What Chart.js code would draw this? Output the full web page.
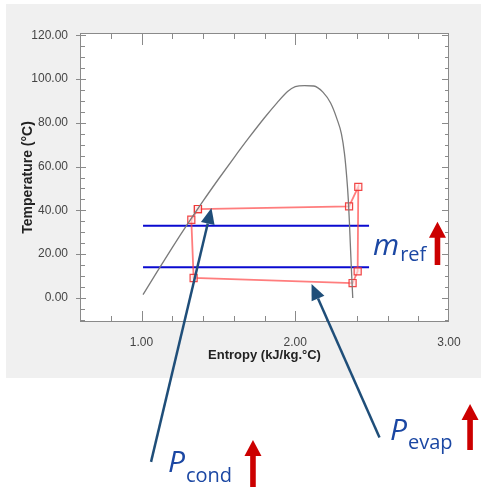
<!DOCTYPE html>
<html>
<head>
<meta charset="utf-8">
<script src="https://cdn.jsdelivr.net/npm/chart.js@4.4.1/dist/chart.umd.min.js"></script>
<style>
  html, body { margin: 0; padding: 0; background: #fff; }
  canvas { display: block; }
</style>
</head>
<body>
<canvas id="grafica" width="481" height="487"></canvas>
<script>
// curva de saturacion (campana)
const domoS = [1.01, 1.10, 1.20, 1.30, 1.40, 1.50, 1.60, 1.70, 1.80, 1.88, 1.95, 2.00, 2.06, 2.12, 2.18, 2.23, 2.27, 2.30, 2.32, 2.335, 2.345, 2.352, 2.358, 2.364, 2.37, 2.374];
const domoT = [1.5, 11.8, 23, 33.8, 44.2, 54.2, 63.9, 73.3, 82.3, 89, 94.3, 96.5, 97, 96.8, 94, 89, 82, 75, 66, 55, 45, 35, 25, 15, 6, 0];

// ciclo de refrigeracion
const cicloS = [1.367, 2.35, 2.41, 2.406, 2.373, 1.339, 1.324, 1.367];
const cicloT = [40.6, 41.8, 50.7, 12.1, 6.8, 9.1, 35.7, 40.6];

// lineas azules de presion
const presionT = [33, 14];
const presionS = [1.01, 2.48];

// etiquetas de ejes
const xEtiquetas = [1, 2, 3];
const yEtiquetas = [0, 20, 40, 60, 80, 100, 120];
const xMin = 0.6, xMax = 3.0, yMin = -11, yMax = 121;

// anotaciones (en unidades de los ejes)
const flechasAzules = [
  { desde: [1.062, -74.9], hasta: [1.455, 41.1] },
  { desde: [2.548, -63.8], hasta: [2.106, 6.4] }
];
const textos = [
  { base: 'm', sub: 'ref', pos: [2.506, 19.6], bajada: 6 },
  { base: 'P', sub: 'cond', pos: [1.172, -79.5], bajada: 10 },
  { base: 'P', sub: 'evap', pos: [2.616, -64.9], bajada: 9 }
];
const flechasRojas = [
  { s: 2.925, punta: 34.8, base: 15.0 },
  { s: 3.137, punta: -48.5, base: -69.5 },
  { s: 1.725, punta: -64.9, base: -87.7 }
];

const ctx = document.getElementById('grafica').getContext('2d');

const puntos = (xs, ys) => xs.map((x, i) => ({ x: x, y: ys[i] }));

const fondo = {
  id: 'fondo',
  beforeDraw(chart) {
    const c = chart.ctx, a = chart.chartArea;
    c.save();
    c.fillStyle = '#ffffff';
    c.fillRect(0, 0, chart.width, chart.height);
    c.fillStyle = '#f0f0f0';
    c.fillRect(6, 4, chart.width - 6, 374);
    c.fillStyle = '#ffffff';
    c.fillRect(a.left, a.top, a.right - a.left, a.bottom - a.top);
    c.restore();
  }
};

function flecha(c, x1, y1, x2, y2) {
  const ang = Math.atan2(y2 - y1, x2 - x1);
  const cab = 16, med = 7;
  const bx = x2 - cab * Math.cos(ang), by = y2 - cab * Math.sin(ang);
  c.strokeStyle = '#1f4e79';
  c.lineWidth = 2.5;
  c.beginPath(); c.moveTo(x1, y1); c.lineTo(bx, by); c.stroke();
  c.fillStyle = '#1f4e79';
  c.beginPath();
  c.moveTo(x2, y2);
  c.lineTo(bx + med * Math.sin(ang), by - med * Math.cos(ang));
  c.lineTo(bx - med * Math.sin(ang), by + med * Math.cos(ang));
  c.closePath(); c.fill();
}

function flechaRoja(c, cx, yPunta, yBase) {
  const hw = 8.5, sw = 2.8, hh = 16;
  c.fillStyle = '#cc0000';
  c.beginPath();
  c.moveTo(cx, yPunta);
  c.lineTo(cx + hw, yPunta + hh);
  c.lineTo(cx + sw, yPunta + hh);
  c.lineTo(cx + sw, yBase);
  c.lineTo(cx - sw, yBase);
  c.lineTo(cx - sw, yPunta + hh);
  c.lineTo(cx - hw, yPunta + hh);
  c.closePath(); c.fill();
}

const marco = {
  id: 'marco',
  afterDraw(chart) {
    const c = chart.ctx, a = chart.chartArea;
    const sx = chart.scales.x, sy = chart.scales.y;
    c.save();
    c.strokeStyle = '#8a8a8a';
    c.lineWidth = 1;
    c.strokeRect(a.left + 0.5, a.top + 0.5, a.right - a.left - 1, a.bottom - a.top - 1);
    c.beginPath();
    // ticks del eje x cada 0.2
    for (let k = 1; k < 12; k++) {
      const v = xMin + k * 0.2;
      const px = Math.round(sx.getPixelForValue(v)) + 0.5;
      const mayor = Math.abs(v - Math.round(v)) < 1e-6;
      const lb = mayor ? 11 : 6, lt = mayor ? 12 : 6;
      c.moveTo(px, a.bottom); c.lineTo(px, a.bottom - lb);
      c.moveTo(px, a.top); c.lineTo(px, a.top + lt);
    }
    // ticks del eje y cada 5
    for (let v = -10; v <= 120; v += 5) {
      const py = Math.round(sy.getPixelForValue(v)) + 0.5;
      const mayor = v % 20 === 0;
      c.moveTo(a.left - (mayor ? 4 : 0), py); c.lineTo(a.left + (mayor ? 6 : 5), py);
      c.moveTo(a.right, py); c.lineTo(a.right - (mayor ? 7 : 4), py);
    }
    c.stroke();

    // lineas de flechas azules
    flechasAzules.forEach(f => {
      flecha(c, sx.getPixelForValue(f.desde[0]), sy.getPixelForValue(f.desde[1]),
                sx.getPixelForValue(f.hasta[0]), sy.getPixelForValue(f.hasta[1]));
    });

    // textos
    c.fillStyle = '#1b47a3';
    c.textBaseline = 'alphabetic';
    c.textAlign = 'left';
    textos.forEach(t => {
      const x = sx.getPixelForValue(t.pos[0]), y = sy.getPixelForValue(t.pos[1]);
      c.font = 'italic 30px "Open Sans"';
      c.fillText(t.base, x, y);
      const w = c.measureText(t.base).width;
      c.font = '20px "Open Sans"';
      c.fillText(t.sub, x + w + 1, y + t.bajada);
    });

    flechasRojas.forEach(f => {
      flechaRoja(c, sx.getPixelForValue(f.s), sy.getPixelForValue(f.punta), sy.getPixelForValue(f.base));
    });
    c.restore();
  }
};

const chart = new Chart(ctx, {
  type: 'scatter',
  data: {
    datasets: [
      {
        label: 'Saturacion',
        data: puntos(domoS, domoT),
        showLine: true,
        borderColor: '#7a7a7a',
        borderWidth: 1.3,
        pointRadius: 0,
        cubicInterpolationMode: 'monotone'
      },
      {
        label: 'Ciclo',
        data: puntos(cicloS, cicloT),
        showLine: true,
        borderColor: 'rgba(255, 70, 70, 0.7)',
        borderWidth: 1.8,
        pointStyle: 'rect',
        pointRadius: 5,
        pointBorderWidth: 1.2,
        pointBorderColor: 'rgba(240, 50, 50, 0.9)',
        pointBackgroundColor: 'rgba(255, 230, 230, 0.6)'
      },
      {
        label: 'Pcond',
        data: puntos(presionS, [presionT[0], presionT[0]]),
        showLine: true,
        borderColor: '#0a0ad0',
        borderWidth: 2,
        pointRadius: 0
      },
      {
        label: 'Pevap',
        data: puntos(presionS, [presionT[1], presionT[1]]),
        showLine: true,
        borderColor: '#0a0ad0',
        borderWidth: 2,
        pointRadius: 0
      }
    ]
  },
  options: {
    responsive: false,
    animation: false,
    devicePixelRatio: 1,
    layout: { padding: { top: 33, right: 32, bottom: 124, left: 0 } },
    plugins: { legend: { display: false }, tooltip: { enabled: false } },
    scales: {
      x: {
        type: 'linear',
        min: xMin, max: xMax,
        grid: { display: false },
        border: { display: false },
        afterFit: s => { s.height = 41; },
        afterBuildTicks: s => { s.ticks = xEtiquetas.map(v => ({ value: v })); },
        ticks: {
          padding: 5,
          autoSkip: false,
          maxRotation: 0,
          color: '#444',
          font: { family: '"Liberation Sans", Arial', size: 12 },
          callback: v => Number(v).toFixed(2)
        },
        title: {
          display: true,
          text: 'Entropy (kJ/kg.°C)',
          color: '#222',
          font: { family: '"Liberation Sans", Arial', size: 13, weight: 'bold' },
          padding: { top: 0, bottom: 0 }
        }
      },
      y: {
        type: 'linear',
        min: yMin, max: yMax,
        grid: { display: false },
        border: { display: false },
        afterFit: s => { s.width = 80; },
        afterBuildTicks: s => { s.ticks = yEtiquetas.map(v => ({ value: v })); },
        ticks: {
          padding: 4,
          autoSkip: false,
          color: '#444',
          font: { family: '"Liberation Sans", Arial', size: 12 },
          callback: v => Number(v).toFixed(2)
        },
        title: {
          display: true,
          text: 'Temperature (°C)',
          color: '#222',
          font: { family: '"Liberation Sans", Arial', size: 14, weight: 'bold' },
          padding: { top: 20, bottom: 0 }
        }
      }
    }
  },
  plugins: [fondo, marco]
});
</script>
</body>
</html>
